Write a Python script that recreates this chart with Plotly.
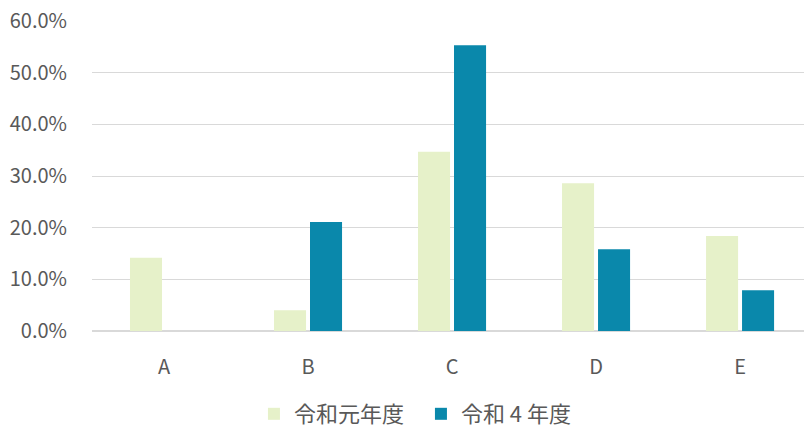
import plotly.graph_objects as go

categories = ["A", "B", "C", "D", "E"]
series_names = ["令和元年度", "令和 4 年度"]
values_r1 = [0.142, 0.040, 0.347, 0.286, 0.184]
values_r4 = [0.0, 0.211, 0.553, 0.158, 0.079]
y_ticks = [0, 0.1, 0.2, 0.3, 0.4, 0.5, 0.6]

font_family = "Noto Sans CJK JP, Noto Sans, sans-serif"

fig = go.Figure()
fig.add_trace(go.Bar(x=categories, y=values_r1, name=series_names[0],
                     marker=dict(color="#E6F1C9", line=dict(width=0))))
fig.add_trace(go.Bar(x=categories, y=values_r4, name=series_names[1],
                     marker=dict(color="#0A88AB", line=dict(width=0))))

fig.update_layout(
    width=804, height=435,
    margin=dict(l=92, r=0, t=21, b=104, autoexpand=False),
    paper_bgcolor="white", plot_bgcolor="white",
    barmode="group", bargap=0.5, bargroupgap=0.11,
    font=dict(family=font_family, color="#595959", size=20),
    showlegend=True,
    legend=dict(orientation="h", x=0.462, xanchor="center", y=-0.3355, yanchor="bottom",
                font=dict(size=22, color="#595959"), itemsizing="constant",
                traceorder="normal", entrywidthmode="pixels", entrywidth=122),
    xaxis=dict(range=[-0.5, 4.444], showgrid=False, showline=False, ticks="",
               automargin=False, ticklabelstandoff=22,
               tickfont=dict(size=20, color="#595959")),
    yaxis=dict(range=[0, 0.6], tickvals=y_ticks, tickformat=".1%",
               showgrid=True, gridcolor="#D9D9D9", gridwidth=1.3,
               zeroline=True, zerolinecolor="#D9D9D9", zerolinewidth=2,
               showline=False, ticks="", ticklabelstandoff=24, automargin=False,
               tickfont=dict(size=20, color="#595959")),
)

fig.write_html("out.html", config={"displayModeBar": False},
               post_script="document.body.style.margin='0';document.body.style.overflow='hidden';")
